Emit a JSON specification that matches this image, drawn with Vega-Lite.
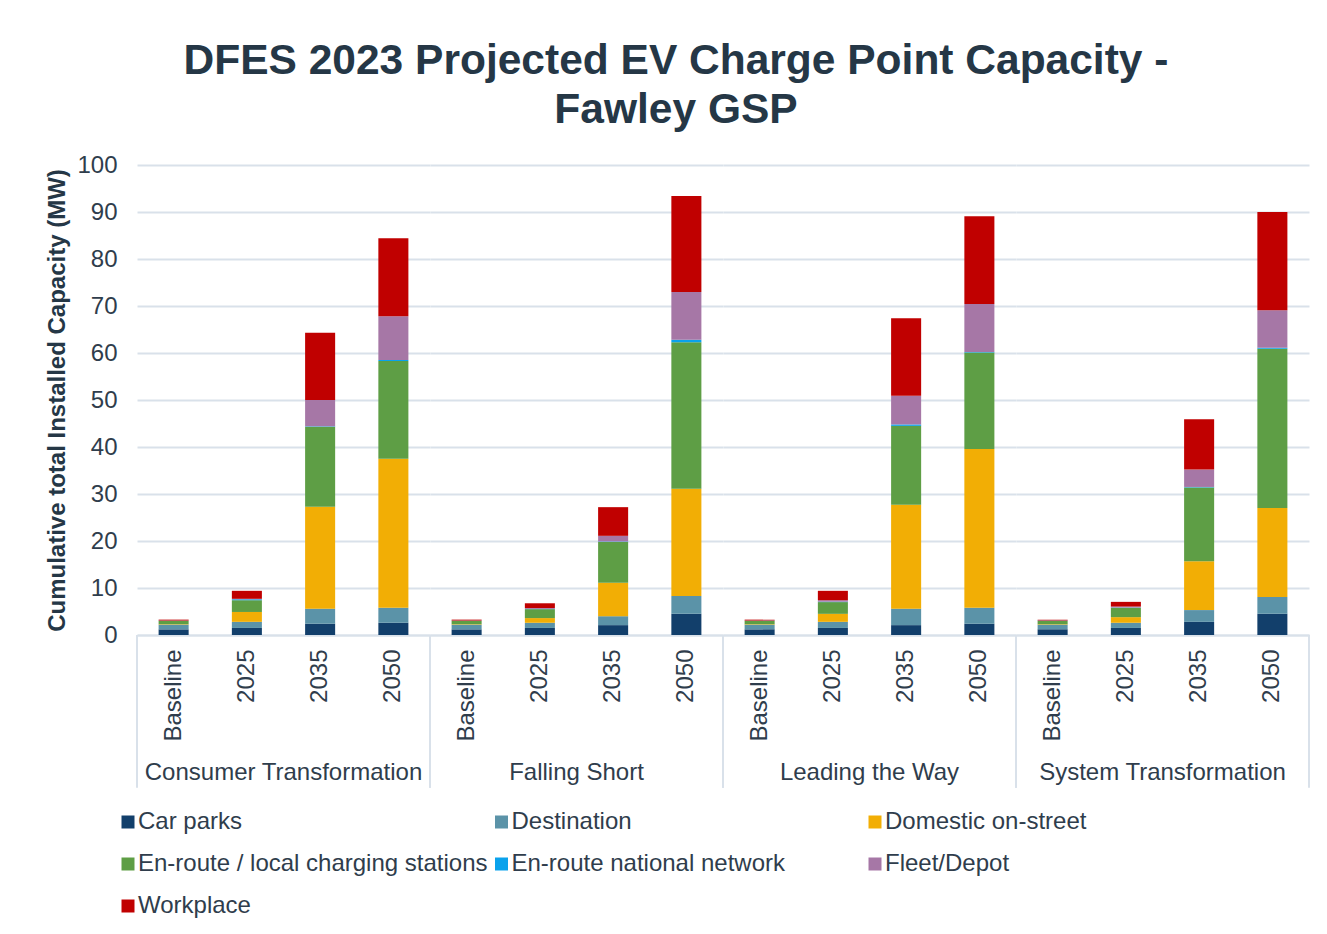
{
  "$schema": "https://vega.github.io/schema/vega-lite/v6.json",
  "padding": {"left": 45, "top": 39, "right": 10, "bottom": 5},
  "title": {
    "text": ["DFES 2023 Projected EV Charge Point Capacity -", "Fawley GSP"],
    "fontSize": 42.5, "font": "Liberation Sans", "fontWeight": "bold", "color": "#253746",
    "lineHeight": 49, "anchor": "middle", "offset": 22, "dx": -2
  },
  "data": {"values": [
    {"s":"Consumer Transformation","y":"Baseline","c":"Car parks","v":1.2},
    {"s":"Consumer Transformation","y":"Baseline","c":"Destination","v":1.0},
    {"s":"Consumer Transformation","y":"Baseline","c":"Domestic on-street","v":0.1},
    {"s":"Consumer Transformation","y":"Baseline","c":"En-route / local charging stations","v":0.7},
    {"s":"Consumer Transformation","y":"Baseline","c":"En-route national network","v":0.02},
    {"s":"Consumer Transformation","y":"Baseline","c":"Fleet/Depot","v":0.05},
    {"s":"Consumer Transformation","y":"Baseline","c":"Workplace","v":0.2},
    {"s":"Consumer Transformation","y":"2025","c":"Car parks","v":1.5},
    {"s":"Consumer Transformation","y":"2025","c":"Destination","v":1.3},
    {"s":"Consumer Transformation","y":"2025","c":"Domestic on-street","v":2.1},
    {"s":"Consumer Transformation","y":"2025","c":"En-route / local charging stations","v":2.5},
    {"s":"Consumer Transformation","y":"2025","c":"En-route national network","v":0.2},
    {"s":"Consumer Transformation","y":"2025","c":"Fleet/Depot","v":0.1},
    {"s":"Consumer Transformation","y":"2025","c":"Workplace","v":1.7},
    {"s":"Consumer Transformation","y":"2035","c":"Car parks","v":2.4},
    {"s":"Consumer Transformation","y":"2035","c":"Destination","v":3.2},
    {"s":"Consumer Transformation","y":"2035","c":"Domestic on-street","v":21.7},
    {"s":"Consumer Transformation","y":"2035","c":"En-route / local charging stations","v":17.0},
    {"s":"Consumer Transformation","y":"2035","c":"En-route national network","v":0.1},
    {"s":"Consumer Transformation","y":"2035","c":"Fleet/Depot","v":5.6},
    {"s":"Consumer Transformation","y":"2035","c":"Workplace","v":14.3},
    {"s":"Consumer Transformation","y":"2050","c":"Car parks","v":2.6},
    {"s":"Consumer Transformation","y":"2050","c":"Destination","v":3.2},
    {"s":"Consumer Transformation","y":"2050","c":"Domestic on-street","v":31.7},
    {"s":"Consumer Transformation","y":"2050","c":"En-route / local charging stations","v":20.8},
    {"s":"Consumer Transformation","y":"2050","c":"En-route national network","v":0.2},
    {"s":"Consumer Transformation","y":"2050","c":"Fleet/Depot","v":9.3},
    {"s":"Consumer Transformation","y":"2050","c":"Workplace","v":16.6},
    {"s":"Falling Short","y":"Baseline","c":"Car parks","v":1.2},
    {"s":"Falling Short","y":"Baseline","c":"Destination","v":1.0},
    {"s":"Falling Short","y":"Baseline","c":"Domestic on-street","v":0.1},
    {"s":"Falling Short","y":"Baseline","c":"En-route / local charging stations","v":0.7},
    {"s":"Falling Short","y":"Baseline","c":"En-route national network","v":0.02},
    {"s":"Falling Short","y":"Baseline","c":"Fleet/Depot","v":0.05},
    {"s":"Falling Short","y":"Baseline","c":"Workplace","v":0.2},
    {"s":"Falling Short","y":"2025","c":"Car parks","v":1.5},
    {"s":"Falling Short","y":"2025","c":"Destination","v":1.1},
    {"s":"Falling Short","y":"2025","c":"Domestic on-street","v":1.0},
    {"s":"Falling Short","y":"2025","c":"En-route / local charging stations","v":1.9},
    {"s":"Falling Short","y":"2025","c":"En-route national network","v":0.05},
    {"s":"Falling Short","y":"2025","c":"Fleet/Depot","v":0.2},
    {"s":"Falling Short","y":"2025","c":"Workplace","v":1.0},
    {"s":"Falling Short","y":"2035","c":"Car parks","v":2.1},
    {"s":"Falling Short","y":"2035","c":"Destination","v":1.9},
    {"s":"Falling Short","y":"2035","c":"Domestic on-street","v":7.1},
    {"s":"Falling Short","y":"2035","c":"En-route / local charging stations","v":8.7},
    {"s":"Falling Short","y":"2035","c":"En-route national network","v":0.1},
    {"s":"Falling Short","y":"2035","c":"Fleet/Depot","v":1.2},
    {"s":"Falling Short","y":"2035","c":"Workplace","v":6.1},
    {"s":"Falling Short","y":"2050","c":"Car parks","v":4.5},
    {"s":"Falling Short","y":"2050","c":"Destination","v":3.8},
    {"s":"Falling Short","y":"2050","c":"Domestic on-street","v":22.8},
    {"s":"Falling Short","y":"2050","c":"En-route / local charging stations","v":31.2},
    {"s":"Falling Short","y":"2050","c":"En-route national network","v":0.5},
    {"s":"Falling Short","y":"2050","c":"Fleet/Depot","v":10.2},
    {"s":"Falling Short","y":"2050","c":"Workplace","v":20.4},
    {"s":"Leading the Way","y":"Baseline","c":"Car parks","v":1.2},
    {"s":"Leading the Way","y":"Baseline","c":"Destination","v":1.0},
    {"s":"Leading the Way","y":"Baseline","c":"Domestic on-street","v":0.1},
    {"s":"Leading the Way","y":"Baseline","c":"En-route / local charging stations","v":0.7},
    {"s":"Leading the Way","y":"Baseline","c":"En-route national network","v":0.02},
    {"s":"Leading the Way","y":"Baseline","c":"Fleet/Depot","v":0.05},
    {"s":"Leading the Way","y":"Baseline","c":"Workplace","v":0.2},
    {"s":"Leading the Way","y":"2025","c":"Car parks","v":1.5},
    {"s":"Leading the Way","y":"2025","c":"Destination","v":1.3},
    {"s":"Leading the Way","y":"2025","c":"Domestic on-street","v":1.7},
    {"s":"Leading the Way","y":"2025","c":"En-route / local charging stations","v":2.5},
    {"s":"Leading the Way","y":"2025","c":"En-route national network","v":0.1},
    {"s":"Leading the Way","y":"2025","c":"Fleet/Depot","v":0.3},
    {"s":"Leading the Way","y":"2025","c":"Workplace","v":2.0},
    {"s":"Leading the Way","y":"2035","c":"Car parks","v":2.1},
    {"s":"Leading the Way","y":"2035","c":"Destination","v":3.5},
    {"s":"Leading the Way","y":"2035","c":"Domestic on-street","v":22.1},
    {"s":"Leading the Way","y":"2035","c":"En-route / local charging stations","v":16.8},
    {"s":"Leading the Way","y":"2035","c":"En-route national network","v":0.3},
    {"s":"Leading the Way","y":"2035","c":"Fleet/Depot","v":6.1},
    {"s":"Leading the Way","y":"2035","c":"Workplace","v":16.5},
    {"s":"Leading the Way","y":"2050","c":"Car parks","v":2.4},
    {"s":"Leading the Way","y":"2050","c":"Destination","v":3.4},
    {"s":"Leading the Way","y":"2050","c":"Domestic on-street","v":33.8},
    {"s":"Leading the Way","y":"2050","c":"En-route / local charging stations","v":20.5},
    {"s":"Leading the Way","y":"2050","c":"En-route national network","v":0.1},
    {"s":"Leading the Way","y":"2050","c":"Fleet/Depot","v":10.2},
    {"s":"Leading the Way","y":"2050","c":"Workplace","v":18.7},
    {"s":"System Transformation","y":"Baseline","c":"Car parks","v":1.2},
    {"s":"System Transformation","y":"Baseline","c":"Destination","v":1.0},
    {"s":"System Transformation","y":"Baseline","c":"Domestic on-street","v":0.1},
    {"s":"System Transformation","y":"Baseline","c":"En-route / local charging stations","v":0.7},
    {"s":"System Transformation","y":"Baseline","c":"En-route national network","v":0.02},
    {"s":"System Transformation","y":"Baseline","c":"Fleet/Depot","v":0.05},
    {"s":"System Transformation","y":"Baseline","c":"Workplace","v":0.2},
    {"s":"System Transformation","y":"2025","c":"Car parks","v":1.5},
    {"s":"System Transformation","y":"2025","c":"Destination","v":1.1},
    {"s":"System Transformation","y":"2025","c":"Domestic on-street","v":1.2},
    {"s":"System Transformation","y":"2025","c":"En-route / local charging stations","v":2.0},
    {"s":"System Transformation","y":"2025","c":"En-route national network","v":0.05},
    {"s":"System Transformation","y":"2025","c":"Fleet/Depot","v":0.2},
    {"s":"System Transformation","y":"2025","c":"Workplace","v":1.0},
    {"s":"System Transformation","y":"2035","c":"Car parks","v":2.8},
    {"s":"System Transformation","y":"2035","c":"Destination","v":2.5},
    {"s":"System Transformation","y":"2035","c":"Domestic on-street","v":10.4},
    {"s":"System Transformation","y":"2035","c":"En-route / local charging stations","v":15.7},
    {"s":"System Transformation","y":"2035","c":"En-route national network","v":0.1},
    {"s":"System Transformation","y":"2035","c":"Fleet/Depot","v":3.7},
    {"s":"System Transformation","y":"2035","c":"Workplace","v":10.7},
    {"s":"System Transformation","y":"2050","c":"Car parks","v":4.5},
    {"s":"System Transformation","y":"2050","c":"Destination","v":3.6},
    {"s":"System Transformation","y":"2050","c":"Domestic on-street","v":18.9},
    {"s":"System Transformation","y":"2050","c":"En-route / local charging stations","v":33.9},
    {"s":"System Transformation","y":"2050","c":"En-route national network","v":0.2},
    {"s":"System Transformation","y":"2050","c":"Fleet/Depot","v":8.0},
    {"s":"System Transformation","y":"2050","c":"Workplace","v":20.9}
  ]},
  "facet": {
    "column": {
      "field": "s", "type": "nominal", "header": null,
      "sort": ["Consumer Transformation", "Falling Short", "Leading the Way", "System Transformation"]
    }
  },
  "spacing": 0,
  "bounds": "flush",
  "resolve": {"scale": {"x": "independent"}},
  "spec": {
    "width": 293,
    "height": 470,
    "layer": [
      {
        "mark": {"type": "bar"},
        "encoding": {
          "x": {
            "field": "y", "type": "nominal",
            "sort": ["Baseline", "2025", "2035", "2050"],
            "scale": {"paddingInner": 0.59, "paddingOuter": 0.295},
            "axis": {"title": null, "labelAngle": 270, "labelPadding": 14, "ticks": false,
                     "domain": true, "domainColor": "#d9e1ea", "domainWidth": 2, "grid": false}
          },
          "y": {
            "field": "v", "type": "quantitative", "aggregate": "sum", "stack": "zero",
            "scale": {"domain": [0, 100], "nice": false},
            "axis": {"title": "Cumulative total Installed Capacity (MW)",
                     "values": [0, 10, 20, 30, 40, 50, 60, 70, 80, 90, 100],
                     "domain": false, "ticks": false, "labelPadding": 20, "titlePadding": 7,
                     "grid": true, "gridColor": "#d9e1ea", "gridWidth": 2}
          },
          "color": {
            "field": "c", "type": "nominal", "title": null,
            "scale": {
              "domain": ["Car parks", "Destination", "Domestic on-street", "En-route / local charging stations", "En-route national network", "Fleet/Depot", "Workplace"],
              "range": ["#123F6B", "#5B93A8", "#F2AE05", "#5E9E45", "#0AA2EC", "#A677A6", "#C00000"]
            },
            "legend": {
              "orient": "none", "legendX": -21, "legendY": 645,
              "direction": "horizontal", "columns": 3, "gridAlign": "all",
              "symbolType": "square", "symbolSize": 169, "symbolStrokeWidth": 0,
              "labelFontSize": 24, "labelOffset": -2, "columnPadding": 1.5, "rowPadding": 18,
              "labelLimit": 500
            }
          },
          "order": {"field": "c", "sort": "ascending"}
        }
      },
      {
        "transform": [{"filter": "datum.y == 'Baseline' && datum.c == 'Car parks'"}],
        "mark": {"type": "rule", "color": "#d9e1ea", "strokeWidth": 2},
        "encoding": {
          "x": {"datum": 0, "type": "quantitative", "scale": {"domain": [0, 1]}, "axis": null},
          "y": {"datum": 0, "type": "quantitative"},
          "y2": {"datum": -32.5}
        }
      },
      {
        "transform": [{"filter": "datum.y == 'Baseline' && datum.c == 'Car parks'"}],
        "mark": {"type": "rule", "color": "#d9e1ea", "strokeWidth": 2},
        "encoding": {
          "x": {"datum": 1, "type": "quantitative", "scale": {"domain": [0, 1]}, "axis": null},
          "y": {"datum": 0, "type": "quantitative"},
          "y2": {"datum": -32.5}
        }
      },
      {
        "transform": [{"filter": "datum.y == 'Baseline' && datum.c == 'Car parks'"}],
        "mark": {"type": "text", "fontSize": 24, "font": "Liberation Sans", "color": "#2f3d4c", "baseline": "middle", "align": "center"},
        "encoding": {
          "x": {"datum": 0.5, "type": "quantitative", "scale": {"domain": [0, 1]}, "axis": null},
          "y": {"datum": -29.4, "type": "quantitative"},
          "text": {"field": "s"}
        }
      }
    ],
    "resolve": {"scale": {"x": "independent"}}
  },
  "config": {
    "font": "Liberation Sans",
    "view": {"stroke": null},
    "axis": {"labelFont": "Liberation Sans", "labelFontSize": 24, "labelColor": "#2f3d4c",
             "titleFont": "Liberation Sans", "titleFontSize": 24, "titleFontWeight": "bold", "titleColor": "#253746"},
    "legend": {"labelFont": "Liberation Sans", "labelColor": "#2f3d4c"}
  }
}
